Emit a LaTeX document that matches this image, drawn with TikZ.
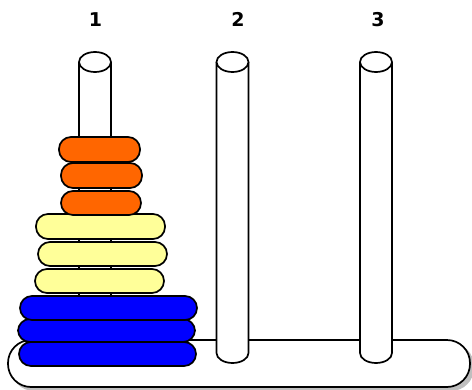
\documentclass[tikz,border=0pt]{standalone}
\usepackage{fontspec}
\setmainfont{DejaVu Sans}
\definecolor{ringorange}{HTML}{FF6600}
\definecolor{ringyellow}{HTML}{FFFF99}
\definecolor{ringblue}{HTML}{0000FF}
\begin{document}
\begin{tikzpicture}[x=1pt,y=-1pt,
  outline/.style={draw=black,line width=1.7pt},
  ring/.style={outline,rounded corners=12pt},
  pegnum/.style={font=\bfseries\fontsize{19}{22}\selectfont,inner sep=0pt}]
\useasboundingbox (0,0) rectangle (472,389);
\begin{scope}
\clip (0,0) rectangle (472,389);
% drop shadow and base board
\fill[black!25,rounded corners=23pt] (11,343) rectangle (474,391);
\draw[outline,fill=white,rounded corners=23pt] (8,340) rectangle (470,387);
\end{scope}
% pegs: body, lower rim, top cap
\foreach \px in {95,232.5,376}{
  \fill[white] (\px-16,62) -- (\px-16,353) arc[start angle=180,end angle=0,x radius=16,y radius=10] -- (\px+16,62) -- cycle;
  \draw[outline] (\px-16,62) -- (\px-16,353) arc[start angle=180,end angle=0,x radius=16,y radius=10] -- (\px+16,62);
  \draw[outline,fill=white] (\px,62) ellipse[x radius=16,y radius=10];
}
% disks on peg 1, bottom to top
\draw[ring,fill=ringblue] (19,342) rectangle (196,366);
\draw[ring,fill=ringblue] (18,319) rectangle (195,342);
\draw[ring,fill=ringblue] (20,296) rectangle (197,320);
\draw[ring,fill=ringyellow] (35,269) rectangle (164,293);
\draw[ring,fill=ringyellow] (38,242) rectangle (167,266);
\draw[ring,fill=ringyellow] (36,214) rectangle (165,239);
\draw[ring,fill=ringorange] (61,191) rectangle (141,215);
\draw[ring,fill=ringorange] (61,163) rectangle (142,188);
\draw[ring,fill=ringorange] (59,137) rectangle (140,162);
% peg numbers
\node[pegnum] (n1) at (95.5,19.5) {1};
\node[pegnum] (n2) at (238,19.5) {2};
\node[pegnum] (n3) at (378,19.5) {3};
\end{tikzpicture}
\end{document}
